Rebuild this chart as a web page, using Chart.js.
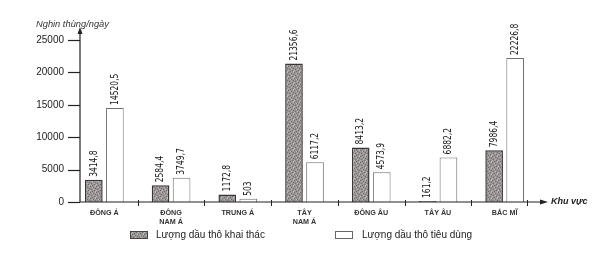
<!DOCTYPE html>
<html>
<head>
<meta charset="utf-8">
<script src="https://cdn.jsdelivr.net/npm/chart.js@4.4.0/dist/chart.umd.min.js"></script>
<style>
  html, body { margin: 0; padding: 0; background: #fff; }
  #wrap { width: 598px; height: 254px; position: relative; }
</style>
</head>
<body>
<div id="wrap"><canvas id="oilChart"></canvas></div>
<script>
// Data
const regions = ['ĐÔNG Á', ['ĐÔNG', 'NAM Á'], 'TRUNG Á', ['TÂY', 'NAM Á'], 'ĐÔNG ÂU', 'TÂY ÂU', 'BẮC MĨ'];
const khaiThac = [3414.8, 2584.4, 1172.8, 21356.6, 8413.2, 161.2, 7986.4];
const tieuDung = [14520.5, 3749.7, 503, 6117.2, 4573.9, 6882.2, 22226.8];
const seriesNames = ['Lượng dầu thô khai thác', 'Lượng dầu thô tiêu dùng'];
const yTicks = [0, 5000, 10000, 15000, 20000, 25000];
const yUnit = 'Nghin thùng/ngày';
const xUnit = 'Khu vực';

const FONT = "'Liberation Sans', Arial, sans-serif";

// stippled grey fill like the printed chart
function makeStipple() {
  const c = document.createElement('canvas');
  c.width = 6; c.height = 6;
  const g = c.getContext('2d');
  g.fillStyle = '#9b9696';
  g.fillRect(0, 0, 6, 6);
  g.fillStyle = '#6e6a6a';
  [[0,0],[3,1],[1,3],[4,4],[2,5],[5,2]].forEach(p => g.fillRect(p[0], p[1], 1, 1));
  g.fillStyle = '#bdb9b9';
  [[2,1],[5,0],[0,4],[3,3],[5,5]].forEach(p => g.fillRect(p[0], p[1], 1, 1));
  return g.createPattern(c, 'repeat');
}
const stipple = makeStipple();

function fmt(v) {
  return String(v).replace('.', ',');
}

// axes, arrows, separators, value labels, legend and unit texts
const decorPlugin = {
  id: 'decor',
  afterDatasetsDraw(chart) {
    const ctx = chart.ctx;
    const x = chart.scales.x;
    const y = chart.scales.y;
    const area = chart.chartArea;
    const axisX = 80;
    const y0 = y.getPixelForValue(0);
    const xEnd = 545;

    ctx.save();
    ctx.strokeStyle = '#222';
    ctx.fillStyle = '#222';
    ctx.lineWidth = 1.2;

    // y axis with arrow
    ctx.beginPath();
    ctx.moveTo(axisX, y0);
    ctx.lineTo(axisX, area.top + 4);
    ctx.stroke();
    ctx.beginPath();
    ctx.moveTo(axisX, area.top);
    ctx.lineTo(axisX - 2.5, area.top + 7);
    ctx.lineTo(axisX + 2.5, area.top + 7);
    ctx.closePath();
    ctx.fill();

    // y tick marks
    yTicks.forEach(v => {
      const py = Math.round(y.getPixelForValue(v)) + 0.5;
      ctx.beginPath();
      ctx.moveTo(axisX - 12, py);
      ctx.lineTo(axisX, py);
      ctx.stroke();
    });

    // x axis with arrow
    ctx.beginPath();
    ctx.moveTo(axisX, y0);
    ctx.lineTo(xEnd - 4, y0);
    ctx.stroke();
    ctx.beginPath();
    ctx.moveTo(xEnd + 3, y0);
    ctx.lineTo(xEnd - 5, y0 - 2.5);
    ctx.lineTo(xEnd - 5, y0 + 2.5);
    ctx.closePath();
    ctx.fill();

    // category separators
    const n = regions.length;
    const step = x.getPixelForValue(1) - x.getPixelForValue(0);
    const seps = [];
    for (let i = 0; i < n - 1; i++) {
      seps.push((x.getPixelForValue(i) + x.getPixelForValue(i + 1)) / 2);
    }
    seps.push(x.getPixelForValue(n - 1) + step * 0.33);
    ctx.lineWidth = 1;
    seps.forEach(px => {
      const sx = Math.round(px) + 0.5;
      ctx.beginPath();
      ctx.moveTo(sx, y0 - 2);
      ctx.lineTo(sx, y0 + 4);
      ctx.stroke();
    });

    // value labels, rotated
    chart.data.datasets.forEach((ds, di) => {
      const meta = chart.getDatasetMeta(di);
      meta.data.forEach((bar, i) => {
        ctx.save();
        ctx.translate(bar.x, bar.y - 3);
        ctx.rotate(-Math.PI / 2);
        ctx.scale(0.8, 1);
        ctx.font = "10.5px 'Liberation Sans Narrow', 'DejaVu Sans Condensed', Arial, sans-serif";
        ctx.fillStyle = '#1a1a1a';
        ctx.textAlign = 'left';
        ctx.textBaseline = 'middle';
        ctx.fillText(fmt(ds.data[i]), 0, 0);
        ctx.restore();
      });
    });

    // unit texts
    ctx.fillStyle = '#333';
    ctx.font = 'italic 9.3px ' + FONT;
    ctx.textAlign = 'left';
    ctx.textBaseline = 'middle';
    ctx.fillText(yUnit, 36, 24);
    ctx.fillStyle = '#222';
    ctx.font = 'italic bold 9px ' + FONT;
    ctx.fillText(xUnit, 551, y0);

    // legend
    const legend = [
      { box: 130, text: 156 },
      { box: 335, text: 362 }
    ];
    chart.data.datasets.forEach((ds, di) => {
      const L = legend[di];
      ctx.fillStyle = ds.backgroundColor;
      ctx.fillRect(L.box, 231, 17, 7);
      ctx.strokeStyle = di === 0 ? '#444' : '#666';
      ctx.lineWidth = 1;
      ctx.strokeRect(L.box + 0.5, 231.5, 17, 7);
      ctx.fillStyle = '#222';
      ctx.font = '10px ' + FONT;
      ctx.fillText(ds.label, L.text, 235);
    });
    ctx.restore();
  }
};

const chart = new Chart(document.getElementById('oilChart'), {
  type: 'bar',
  data: {
    labels: regions,
    datasets: [
      {
        label: seriesNames[0],
        data: khaiThac,
        backgroundColor: stipple,
        borderColor: '#3a3636',
        borderWidth: 1.5,
        categoryPercentage: 0.63,
        barPercentage: 0.84
      },
      {
        label: seriesNames[1],
        data: tieuDung,
        backgroundColor: '#ffffff',
        borderColor: '#6f6f6f',
        borderWidth: 1,
        categoryPercentage: 0.63,
        barPercentage: 0.84
      }
    ]
  },
  options: {
    responsive: true,
    maintainAspectRatio: false,
    animation: false,
    layout: { padding: { top: 27, right: 60, bottom: 0, left: 0 } },
    plugins: {
      legend: { display: false },
      tooltip: { enabled: false }
    },
    scales: {
      x: {
        grid: { display: false, drawTicks: false },
        border: { display: false },
        ticks: {
          padding: 7,
          maxRotation: 0,
          autoSkip: false,
          color: '#333',
          font: { family: FONT, size: 7.2, weight: 'bold' }
        },
        afterFit: s => { s.height = 52; }
      },
      y: {
        min: 0,
        max: 27000,
        grid: { display: false, drawTicks: false },
        border: { display: false },
        ticks: {
          autoSkip: false,
          padding: 7,
          color: '#222',
          font: { family: FONT, size: 10 },
          callback: v => String(v)
        },
        afterBuildTicks: s => { s.ticks = yTicks.map(v => ({ value: v })); },
        afterFit: s => { s.width = 71; }
      }
    }
  },
  plugins: [decorPlugin]
});
</script>
</body>
</html>
